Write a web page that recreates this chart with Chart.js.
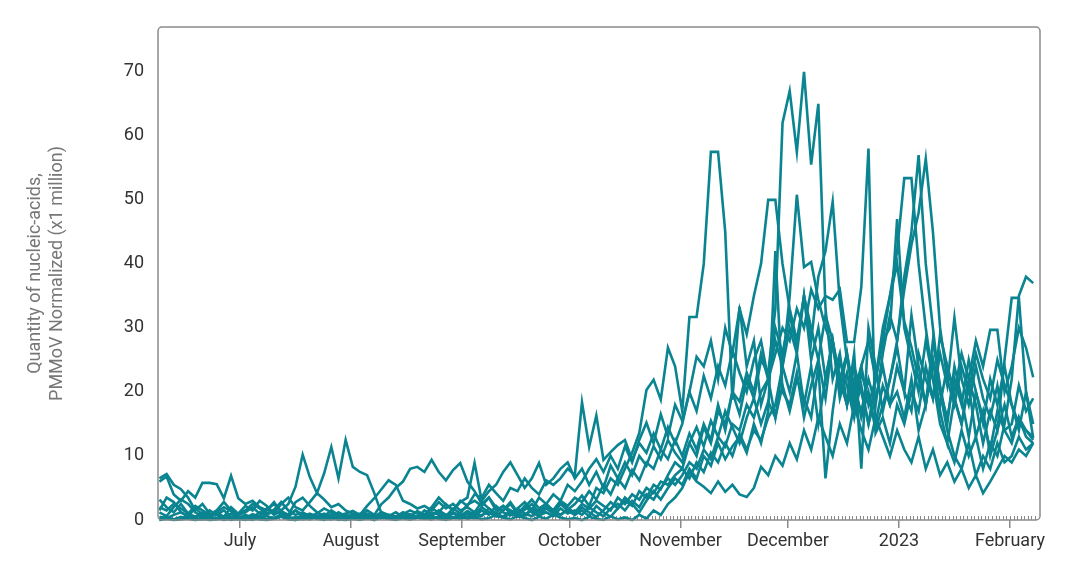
<!DOCTYPE html>
<html>
<head>
<meta charset="utf-8">
<script src="https://cdn.jsdelivr.net/npm/chart.js@4"></script>
<style>
  html, body { margin: 0; padding: 0; background: #fff; }
</style>
</head>
<body>
<canvas id="myChart" width="1076" height="572"></canvas>
<script>
	// one sample every 2 days, day 0 = 8 June 2022
	var sampleDays = [];
	for (var i = 0; i < 123; i++) sampleDays.push(0.5 + 2 * i);

	var monthTicks = [23, 54, 85, 115, 146, 176, 207, 238];
	var monthLabels = ['July', 'August', 'September', 'October', 'November', 'December', '2023', 'February'];
	var yTicks = [0, 10, 20, 30, 40, 50, 60, 70];

	// rows: Jun, Jul, Aug, Sep, Oct, Nov, Dec, Jan, Feb
	var site1 = [
		0.5,0.3,0.8,1.2,0.6,0.4,0.9,0.5,0.3,0.6,1.0,0.4,
		0.3,0.6,0.2,0.8,1.5,0.9,0.4,0.3,0.7,0.5,0.2,0.4,0.9,0.6,0.3,
		0.4,0.2,0.5,0.3,0.8,0.4,0.2,0.6,0.9,0.5,0.3,1.2,0.8,0.4,1.0,0.6,
		1.4,0.8,2.0,1.2,0.6,1.5,2.5,1.0,0.7,1.8,1.2,2.2,1.5,0.8,1.6,
		2.5,3.8,2.2,5.0,4.2,6.5,5.5,8.0,10.5,13.6,20.3,21.9,18.8,26.9,24.0,
		17.0,31.7,31.7,40.0,57.5,57.5,45.0,18.8,33.3,24.0,28.0,18.0,22.0,16.0,24.0,
		20,26,18,24,15,22,28,19,23,17,21,15,19,24,18,20,
		16,22,14,18,25,17,12,19,15,21,13,17,10,14,18,
		13,16,14,12.5
	];
	var site2 = [
		3.2,2.0,1.2,2.5,1.0,0.5,1.2,0.8,1.5,2.8,1.5,0.8,
		1.2,2.0,1.0,1.8,0.8,1.5,2.5,5.2,10.2,6.7,4.2,7.3,11.4,6.5,12.5,
		8.3,7.5,7.0,4.2,1.0,0.6,1.2,0.5,0.9,0.4,1.5,0.8,1.2,0.6,1.8,1.0,
		2.4,3.0,2.2,3.5,2.0,1.5,2.8,1.2,2.0,3.2,1.8,2.5,1.5,3.0,2.2,
		3.5,2.8,4.5,3.2,5.5,4.0,6.5,5.0,7.8,6.2,9.0,8.0,11.0,9.5,12.5,
		10.0,13.5,11.0,15.0,12.5,18.0,14.0,20.0,16.5,22.0,19.0,25.0,23.0,33.0,62.0,
		67.0,57.5,70.0,55.5,65.0,33.0,22.0,26.0,18.0,24.0,20.0,15.0,22.0,28.0,30.0,47.0,
		30,25,20,28,22,18,24,20,26,22,28,24,29.7,29.7,20,
		24,30,26.9,22.3
	];
	var site3 = [
		6.5,7.2,5.5,4.8,3.5,1.5,2.5,1.0,0.8,1.5,0.5,0.3,
		0.8,0.4,1.2,0.6,0.3,0.9,0.5,1.5,0.8,0.4,0.6,1.0,0.5,0.3,0.8,
		0.5,1.0,0.6,0.4,1.2,0.8,0.5,0.9,1.5,1.0,0.6,1.8,1.2,2.5,1.5,3.0,
		2.2,4.0,3.5,5.5,4.2,3.0,5.0,4.5,6.5,5.0,4.0,6.2,5.5,6.5,8.0,
		7.0,18.4,11.4,16.3,9.4,10.6,11.7,12.5,9.4,12.0,10.5,13.5,11.0,14.5,12.0,
		15.0,20.0,25.5,24.0,28.0,22.0,30.0,26.0,33.0,29.0,35.0,40.0,50.0,50.0,40.0,
		33,28,35,30,25,32,28,22,26,20,24,18,22,28,35,42,
		53.4,53.4,40,30,22,15,12,9,14,10,13,8,12,10,15,
		22,35,38,37
	];
	var site4 = [
		2.0,1.5,2.5,1.8,1.0,2.2,1.5,0.8,1.2,2.0,1.4,0.9,
		1.5,2.5,1.8,1.0,1.6,2.8,1.5,0.8,1.2,0.6,1.0,1.8,1.2,0.7,1.0,
		1.4,0.8,2.2,3.4,4.8,6.2,5.5,3.0,2.5,1.8,2.2,1.5,2.8,1.8,2.5,1.5,
		2.0,1.2,2.8,1.8,1.0,2.2,1.5,0.8,1.6,2.5,1.2,2.0,1.5,2.8,1.8,
		1.2,2.5,1.8,3.0,2.2,1.5,3.5,2.5,4.0,3.2,5.0,4.2,6.0,5.5,7.0,
		8.0,6.5,9.0,7.5,10.5,9.0,12.0,10.0,13.5,11.0,14.0,12.5,16.0,18.0,24.0,
		35,50.8,39.5,40.3,34.4,30,27,22,18,22,16,20,14,18,22,28,
		38,45,57,40,30,20,14,10,8,12,7,10,8,12,9,
		10,13,11,12
	];
	var site5 = [
		0.2,0.5,0.1,0.3,0.6,0.2,0.1,0.4,0.2,0.5,0.3,0.1,
		0.4,0.2,0.5,0.1,0.3,0.6,0.2,0.4,0.1,0.3,0.5,0.2,0.1,0.4,0.3,
		0.2,0.5,0.3,0.1,0.4,0.2,0.6,0.3,0.1,0.4,0.2,0.5,0.3,0.8,0.4,0.2,
		0.5,0.3,0.8,1.2,0.6,0.4,1.0,0.5,0.8,1.5,0.7,1.2,0.6,1.8,1.0,
		1.5,0.8,2.0,1.2,0.6,1.8,2.5,1.5,3.0,2.0,4.0,3.2,5.0,6.5,5.5,
		7.0,9.0,8.0,11.0,9.5,13.0,11.5,15.0,14.0,18.0,16.0,20.0,22.0,26.0,30.0,
		28,33,30,36,33,35,34.4,36,27.8,27.8,36.4,58,13.6,16,12,18,
		15,20,17,24,19,26,21,31.6,22,18,24,19,16,21,14,
		12,16,13,12
	];
	var site6 = [
		6.0,6.8,4.0,3.0,4.5,3.5,5.8,5.8,5.6,3.4,6.9,3.4,
		2.5,3.0,2.0,1.5,2.8,1.2,0.8,1.5,0.6,1.0,0.5,0.8,0.4,1.2,0.6,
		0.8,0.5,1.0,0.6,0.3,0.8,0.5,1.2,0.7,0.4,0.9,0.6,1.5,0.8,1.2,0.7,
		1.0,0.6,1.5,0.8,2.2,1.2,0.7,1.8,1.0,0.6,1.5,2.5,1.2,0.8,1.6,
		0.8,1.5,0.6,2.2,1.2,0.5,1.8,3.0,2.2,4.5,3.5,5.5,4.8,7.0,9.0,
		8.0,12.0,10.0,14.5,12.0,17.0,15.0,20.0,18.5,23.0,20.0,26.0,22.0,28.0,24.0,
		30,26,35,28,38,42,49.7,34,25,20,17,22,18,26,32,28,
		36,43,48,56.4,45,30,22,18,24,20,26,22,19,25,21,
		18,15,14,13
	];
	var site7 = [
		1.5,3.5,2.8,1.2,0.6,1.8,0.9,0.4,1.2,0.5,2.0,1.0,
		2.2,1.5,3.0,2.2,1.0,2.5,3.5,2.0,1.5,2.8,4.2,3.2,2.0,2.5,1.5,
		1.0,0.6,1.5,0.8,2.5,3.5,5.0,6.0,8.0,8.3,7.5,9.4,7.5,6.2,7.8,8.9,
		6.0,4.5,2.5,3.5,1.5,2.2,1.0,1.8,2.8,1.5,3.5,2.5,4.0,3.0,5.5,
		4.5,6.0,8.0,9.5,7.5,10.0,8.0,11.5,9.0,12.5,15.2,12.0,16.5,13.0,18.0,
		15.5,20.0,17.0,22.5,19.0,24.0,21.0,26.5,23.0,20.0,25.0,28.0,22.0,30.0,26.0,
		32,27,35,25,30,22,28,20,26,18,24,28,22,30,35,40,
		31,27,22,18,25,20,16,22,18,25,20,15,22,18,24,
		18,14,20,15
	];
	var site8 = [
		0.0,0.3,0.1,0.5,0.2,0.0,0.4,0.1,0.3,0.0,0.2,0.5,
		0.2,0.0,0.4,0.1,0.3,0.6,0.2,0.0,0.3,0.1,0.5,0.2,0.4,0.0,0.2,
		0.4,0.1,0.3,0.0,0.5,0.2,0.1,0.4,0.2,0.6,0.3,0.1,0.5,0.2,0.4,0.8,
		0.5,1.2,0.6,1.8,1.0,0.5,1.5,0.8,2.2,1.2,0.6,1.8,1.0,2.5,1.5,
		0.8,2.0,1.2,0.5,1.5,2.8,1.8,3.5,2.5,1.2,3.0,4.5,3.2,5.0,6.5,
		5.5,8.0,6.5,10.0,8.5,12.0,9.5,11.5,13.0,10.5,15.0,12.0,17.0,42.0,20.0,
		18,23,16,21,25,19,28,22,18,26,8,30,24,17,22,27,
		20,32,24,18,28,21,15,24,19,13,20,16,11,17,14,
		15,21,17,19
	];
	var site9 = [
		1.2,0.6,2.0,3.2,2.5,1.2,0.5,1.5,0.8,0.3,1.0,0.6,
		0.3,0.9,0.5,1.6,2.5,1.4,0.8,2.8,3.5,2.2,1.2,0.6,1.5,0.8,0.4,
		0.6,0.3,0.8,0.5,1.2,0.6,0.3,0.9,0.5,1.4,0.8,2.0,3.5,2.4,1.5,2.8,
		3.5,8.9,3.0,4.5,5.5,7.5,9.0,7.0,5.0,6.5,8.9,5.5,6.5,8.0,9.0,
		6.5,8.0,5.5,7.5,5.0,8.5,6.5,9.0,7.0,10.0,8.5,11.5,9.5,12.5,10.5,
		9.0,12.0,14.5,11.5,15.5,13.0,17.0,14.5,12.0,16.0,19.0,15.0,18.5,16.0,21.0,
		17,22,19,16,24,6.5,17,25,21,16,23,19,15,21,18,24,
		20,17,26,22,19,29,24,19,15,22,18,12,17,14,25,
		34.7,34.7,20,12.8
	];
	var site10 = [
		0.0,0.2,0.0,0.1,0.3,0.0,0.2,0.0,0.1,0.4,0.0,0.2,
		0.0,0.3,0.1,0.0,0.2,0.5,0.1,0.0,0.3,0.8,0.2,0.0,0.4,0.1,0.0,
		0.2,0.0,0.3,0.1,0.5,0.2,0.0,0.3,0.1,0.4,0.2,0.6,0.2,0.0,0.3,0.6,
		0.2,0.5,0.1,0.3,0.8,0.4,0.1,0.6,0.3,0.0,0.5,0.2,0.8,0.4,0.1,
		0.3,0.0,0.5,0.2,0.0,0.6,0.1,0.4,0.0,0.8,0.2,1.5,0.8,2.5,3.5,
		5.0,7.5,6.0,5.2,4.2,6.0,4.4,5.5,4.0,3.6,5.0,8.3,7.0,10.0,8.5,
		12,9.5,14,11,16,13,10,15,12,18,14,11,16,13,10,14,
		11,9,13,8,11,7,9,6,8,5,7,4.2,6,8,10,
		9,11,10,12
	];

	var allSites = [site1, site2, site3, site4, site5, site6, site7, site8, site9, site10];
	var lineColor = '#0a8490';
	var tickColor = '#333333';

	// plot frame with rounded corners + small daily ticks along the bottom
	var framePlugin = {
		id: 'frame',
		beforeDatasetsDraw: function(chart) {
			var ctx = chart.ctx;
			var a = chart.chartArea;
			var xs = chart.scales.x;
			ctx.save();
			ctx.strokeStyle = '#8a8a8a';
			ctx.lineWidth = 1;
			for (var d = 1; d <= 245; d++) {
				var px = Math.round(xs.getPixelForValue(d)) + 0.5;
				ctx.beginPath();
				ctx.moveTo(px, a.bottom - 4);
				ctx.lineTo(px, a.bottom);
				ctx.stroke();
			}
			ctx.restore();
		},
		afterDraw: function(chart) {
			var ctx = chart.ctx;
			var a = chart.chartArea;
			ctx.save();
			ctx.strokeStyle = '#8a8a8a';
			ctx.lineWidth = 1.5;
			ctx.beginPath();
			ctx.roundRect(a.left, a.top, a.right - a.left, a.bottom - a.top, 4);
			ctx.stroke();
			ctx.restore();
		}
	};

	function buildChart() {

		const datasets = allSites.map(function(site, k) {
			return {
				label : 'Site ' + (k + 1),
				data : site.map(function(v, i) { return { x : sampleDays[i], y : v }; }),
				borderColor : lineColor,
				borderWidth : 2.6,
				pointRadius : 0,
				tension : 0,
				clip : false,
			};
		});

		const config = {
			type : 'line',
			data : { datasets : datasets },
			options : {
				responsive : false,
				animation : false,
				events : [],
				layout : {
					autoPadding : false,
					padding : { left : 0, right : 36, top : 27, bottom : 0 },
				},
				plugins : {
					legend : { display : false },
					tooltip : { enabled : false },
				},
				scales : {
					x : {
						type : 'linear',
						min : 0.1,
						max : 246.4,
						afterBuildTicks : function(scale) {
							scale.ticks = monthTicks.map(function(v) { return { value : v }; });
						},
						afterFit : function(scale) { scale.height = 52; },
						grid : {
							drawOnChartArea : false,
							drawTicks : true,
							tickLength : 8,
							color : '#8a8a8a',
							lineWidth : 1.5,
						},
						border : { display : false },
						ticks : {
							autoSkip : false,
							maxRotation : 0,
							padding : 3,
							color : tickColor,
							font : { family : 'Roboto', size : 18 },
							callback : function(value, index) { return monthLabels[index]; },
						},
					},
					y : {
						min : 0,
						max : 77,
						afterBuildTicks : function(scale) {
							scale.ticks = yTicks.map(function(v) { return { value : v }; });
						},
						afterFit : function(scale) { scale.width = 158; },
						grid : { display : false, drawTicks : false },
						border : { display : false },
						ticks : {
							padding : 14,
							color : tickColor,
							font : { family : 'Roboto', size : 18 },
						},
						title : {
							display : true,
							text : ['Quantity of nucleic-acids,', 'PMMoV Normalized (x1 million)'],
							color : '#777777',
							font : { family : 'Roboto', size : 18, lineHeight : 1.2 },
							padding : { top : 25, bottom : 0 },
						},
					},
				},
			},
			plugins : [framePlugin],
		};

		var myChart = new Chart(document.getElementById('myChart'), config);
	}

	buildChart();
</script>
</body>
</html>
